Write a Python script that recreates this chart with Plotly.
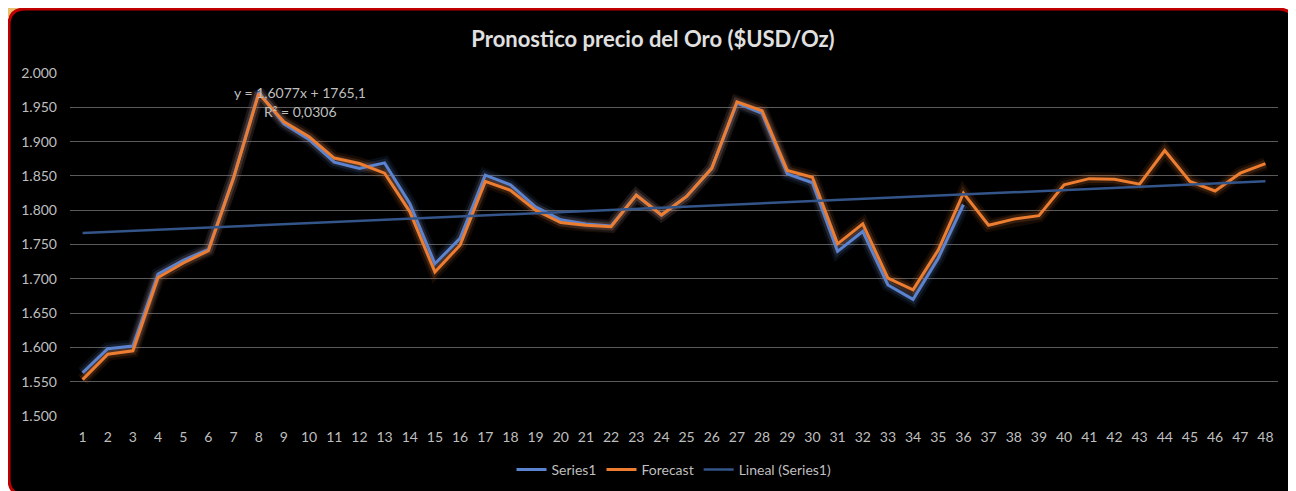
import plotly.graph_objects as go

# ---------------- data ----------------
categories = list(range(1, 49))
series1 = [1563, 1598, 1602, 1707, 1727, 1743, 1848, 1972, 1926, 1903, 1870, 1861,
           1869, 1810, 1722, 1759, 1851, 1837, 1805, 1786, 1780, 1777, 1822, 1793,
           1820, 1861, 1956, 1941, 1853, 1840, 1740, 1769, 1691, 1670, 1730, 1808]
forecast = [1553, 1590, 1595, 1702, 1723, 1741, 1847, 1970, 1929, 1907, 1876, 1868,
            1854, 1798, 1710, 1749, 1842, 1829, 1800, 1782, 1778, 1776, 1822, 1793,
            1820, 1861, 1958, 1945, 1858, 1848, 1751, 1780, 1701, 1684, 1742, 1825,
            1778, 1787, 1792, 1837, 1846, 1845, 1838, 1887, 1842, 1828, 1854, 1868]
trend_slope = 1.6077
trend_intercept = 1765.1
y_ticks = [1500, 1550, 1600, 1650, 1700, 1750, 1800, 1850, 1900, 1950, 2000]
title_text = "Pronostico precio del Oro ($USD/Oz)"
equation_text = "y = 1,6077x + 1765,1"
r2_text = "R² = 0,0306"

trend = [trend_slope * c + trend_intercept for c in categories]

# ---------------- layout geometry (page pixels; page body has an 8px margin) ----------------
OFF = 8
W_PX, H_PX = 1296 - OFF, 491 - OFF
PL, PR, PT, PB = 70 - OFF, 1278 - OFF, 73 - OFF, 416 - OFF


def fx(x):
    return (x - OFF - PL) / (PR - PL)


def fy(y):
    return (PB - (y - OFF)) / (PB - PT)


BLUE = "#5b83cf"
ORANGE = "#ed7d31"
DARKBLUE = "#33558a"
FONT = "Lato"

fig = go.Figure()

# glow layers
for w, a in [(13, 0.09), (8, 0.16)]:
    fig.add_trace(go.Scatter(x=categories[:len(series1)], y=series1, mode="lines",
                             line=dict(color=f"rgba(91,131,207,{a})", width=w),
                             showlegend=False, hoverinfo="skip"))
for w, a in [(13, 0.09), (8, 0.16)]:
    fig.add_trace(go.Scatter(x=categories, y=forecast, mode="lines",
                             line=dict(color=f"rgba(237,125,49,{a})", width=w),
                             showlegend=False, hoverinfo="skip"))

fig.add_trace(go.Scatter(x=categories[:len(series1)], y=series1, mode="lines",
                         name="Series1", line=dict(color=BLUE, width=3)))
fig.add_trace(go.Scatter(x=categories, y=forecast, mode="lines",
                         name="Forecast", line=dict(color=ORANGE, width=3)))
fig.add_trace(go.Scatter(x=categories, y=trend, mode="lines",
                         name="Lineal (Series1)", line=dict(color=DARKBLUE, width=2.5)))

# background shapes (page coordinates)
l, t, r, b, rad = 9, 9, 1294, 495, 16
path = (f"M {fx(l+rad)},{fy(t)} L {fx(r-rad)},{fy(t)} Q {fx(r)},{fy(t)} {fx(r)},{fy(t+rad)} "
        f"L {fx(r)},{fy(b-rad)} Q {fx(r)},{fy(b)} {fx(r-rad)},{fy(b)} "
        f"L {fx(l+rad)},{fy(b)} Q {fx(l)},{fy(b)} {fx(l)},{fy(b-rad)} "
        f"L {fx(l)},{fy(t+rad)} Q {fx(l)},{fy(t)} {fx(l+rad)},{fy(t)} Z")
gold = f"M {fx(8)},{fy(8)} L {fx(28.5)},{fy(8)} L {fx(8)},{fy(17.3)} Z"

fig.update_layout(
    width=W_PX, height=H_PX,
    margin=dict(l=PL, r=W_PX - PR, t=PT, b=H_PX - PB, autoexpand=False),
    paper_bgcolor="white",
    plot_bgcolor="rgba(0,0,0,0)",
    separators=",.",
    font=dict(family=FONT, color="#bfbfbf", size=14),
    title=dict(text=f"<b>{title_text}</b>", x=(653 - OFF) / W_PX, xref="container", xanchor="center",
               y=1 - (39 - OFF) / H_PX, yref="container", yanchor="middle",
               font=dict(family=FONT, size=22, color="#e0e0e0")),
    shapes=[
        dict(type="path", path=gold, xref="paper", yref="paper",
             fillcolor="#e8c070", line=dict(width=0), layer="below"),
        dict(type="path", path=path, xref="paper", yref="paper",
             fillcolor="black", line=dict(color="#c00000", width=3), layer="below"),
    ],
    xaxis=dict(range=[0.5, 48.5], tickmode="array", tickvals=categories,
               ticktext=[str(c) for c in categories], showgrid=False, zeroline=False,
               showline=False, tickfont=dict(size=14, color="#bfbfbf"),
               ticks="", ticklabelstandoff=11, automargin=False),
    yaxis=dict(range=[1500, 2000], tickmode="array", tickvals=y_ticks, tickformat=",.0f",
               showgrid=True, gridcolor="#5a5a5a", gridwidth=1, zeroline=False,
               showline=False, tickfont=dict(size=14, color="#bfbfbf"),
               ticks="", ticklabelstandoff=12, automargin=False),
    legend=dict(orientation="h", x=0.5, xanchor="center", y=fy(470), yanchor="middle",
                font=dict(size=14, color="#bfbfbf"), bgcolor="rgba(0,0,0,0)"),
    annotations=[
        dict(text=equation_text, x=fx(300), y=fy(93), xref="paper", yref="paper",
             showarrow=False, font=dict(size=14, color="#bfbfbf"), xanchor="center", yanchor="middle"),
        dict(text=r2_text, x=fx(300), y=fy(111.5), xref="paper", yref="paper",
             showarrow=False, font=dict(size=14, color="#bfbfbf"), xanchor="center", yanchor="middle"),
    ],
    showlegend=True,
)

fig.write_html("out.html")
